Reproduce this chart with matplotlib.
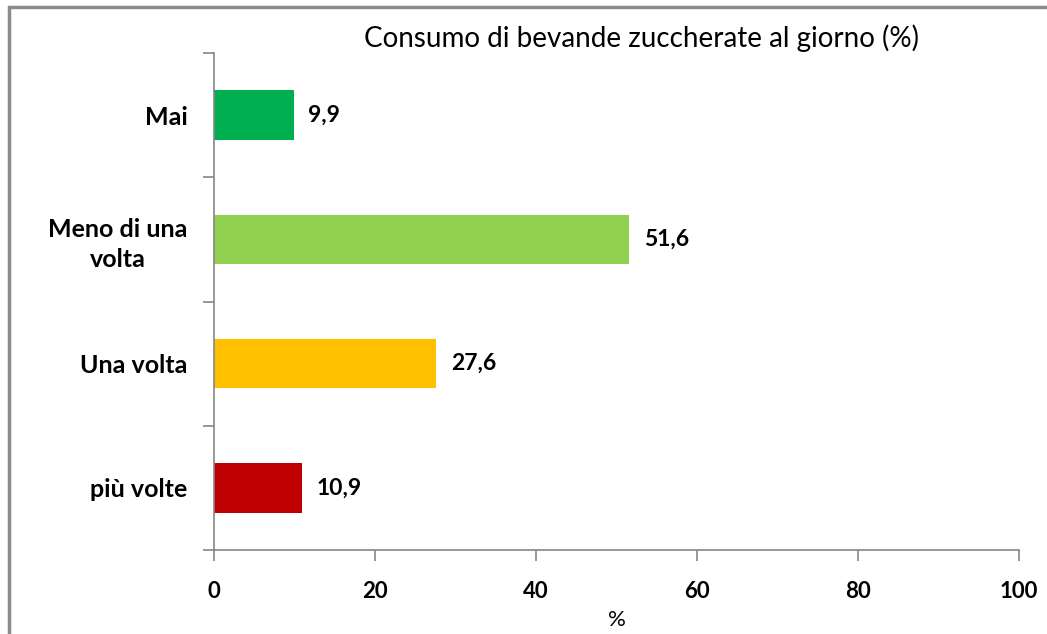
import matplotlib
matplotlib.use("Agg")
import matplotlib.pyplot as plt
from matplotlib.patches import Rectangle

categories = ["Mai", "Meno di una\nvolta", "Una volta", "più volte"]
values = [9.9, 51.6, 27.6, 10.9]
labels = ["9,9", "51,6", "27,6", "10,9"]
colors = ["#00B050", "#92D050", "#FFC000", "#C00000"]
xticks = [0, 20, 40, 60, 80, 100]

AXIS = "#868686"
plt.rcParams["font.family"] = ["Lato", "DejaVu Sans"]

fig = plt.figure(figsize=(10.47, 6.34), dpi=100, facecolor="white")
ax = fig.add_axes([214 / 1047, 1 - 550 / 634, (1019 - 214) / 1047, (550 - 53) / 634])

# frame of the chart area (right and bottom edges fall outside the picture)
fig.patches.append(Rectangle((9 / 1047, -0.05), 1.2, 1 - 7 / 634 + 0.05,
                             transform=fig.transFigure, fill=False,
                             edgecolor="#8C8C8C", linewidth=2.5))

ypos = list(range(len(categories)))
ax.barh(ypos, values, height=0.4, color=colors)
for y, v, t in zip(ypos, values, labels):
    ax.text(v + 1.8, y, t, va="center", ha="left", fontsize=16.5, fontweight="bold")

ax.set_xlim(0, 100)
ax.set_ylim(len(categories) - 0.5, -0.5)
ax.set_xticks(xticks)
ax.set_xticklabels([str(t) for t in xticks], fontsize=16, fontweight="bold")
ax.set_yticks(ypos)
ax.set_yticklabels(categories, fontsize=18, fontweight="bold", linespacing=1.35,
                   multialignment="center")
ax.set_yticks([i - 0.5 for i in range(len(categories) + 1)], minor=True)
ax.tick_params(axis="y", which="major", length=0, pad=19)
ax.tick_params(axis="y", which="minor", length=8, color=AXIS, width=1.2)
ax.tick_params(axis="x", length=8, color=AXIS, width=1.2, pad=14)

for s in ["top", "right"]:
    ax.spines[s].set_visible(False)
for s in ["left", "bottom"]:
    ax.spines[s].set_color(AXIS)
    ax.spines[s].set_linewidth(1.2)

ax.set_xlabel("%", fontsize=16, labelpad=6)
fig.text(642 / 1047, 1 - 38 / 634, "Consumo di bevande zuccherate al giorno (%)",
         ha="center", va="center", fontsize=20)

fig.savefig("out.png", dpi=100)
